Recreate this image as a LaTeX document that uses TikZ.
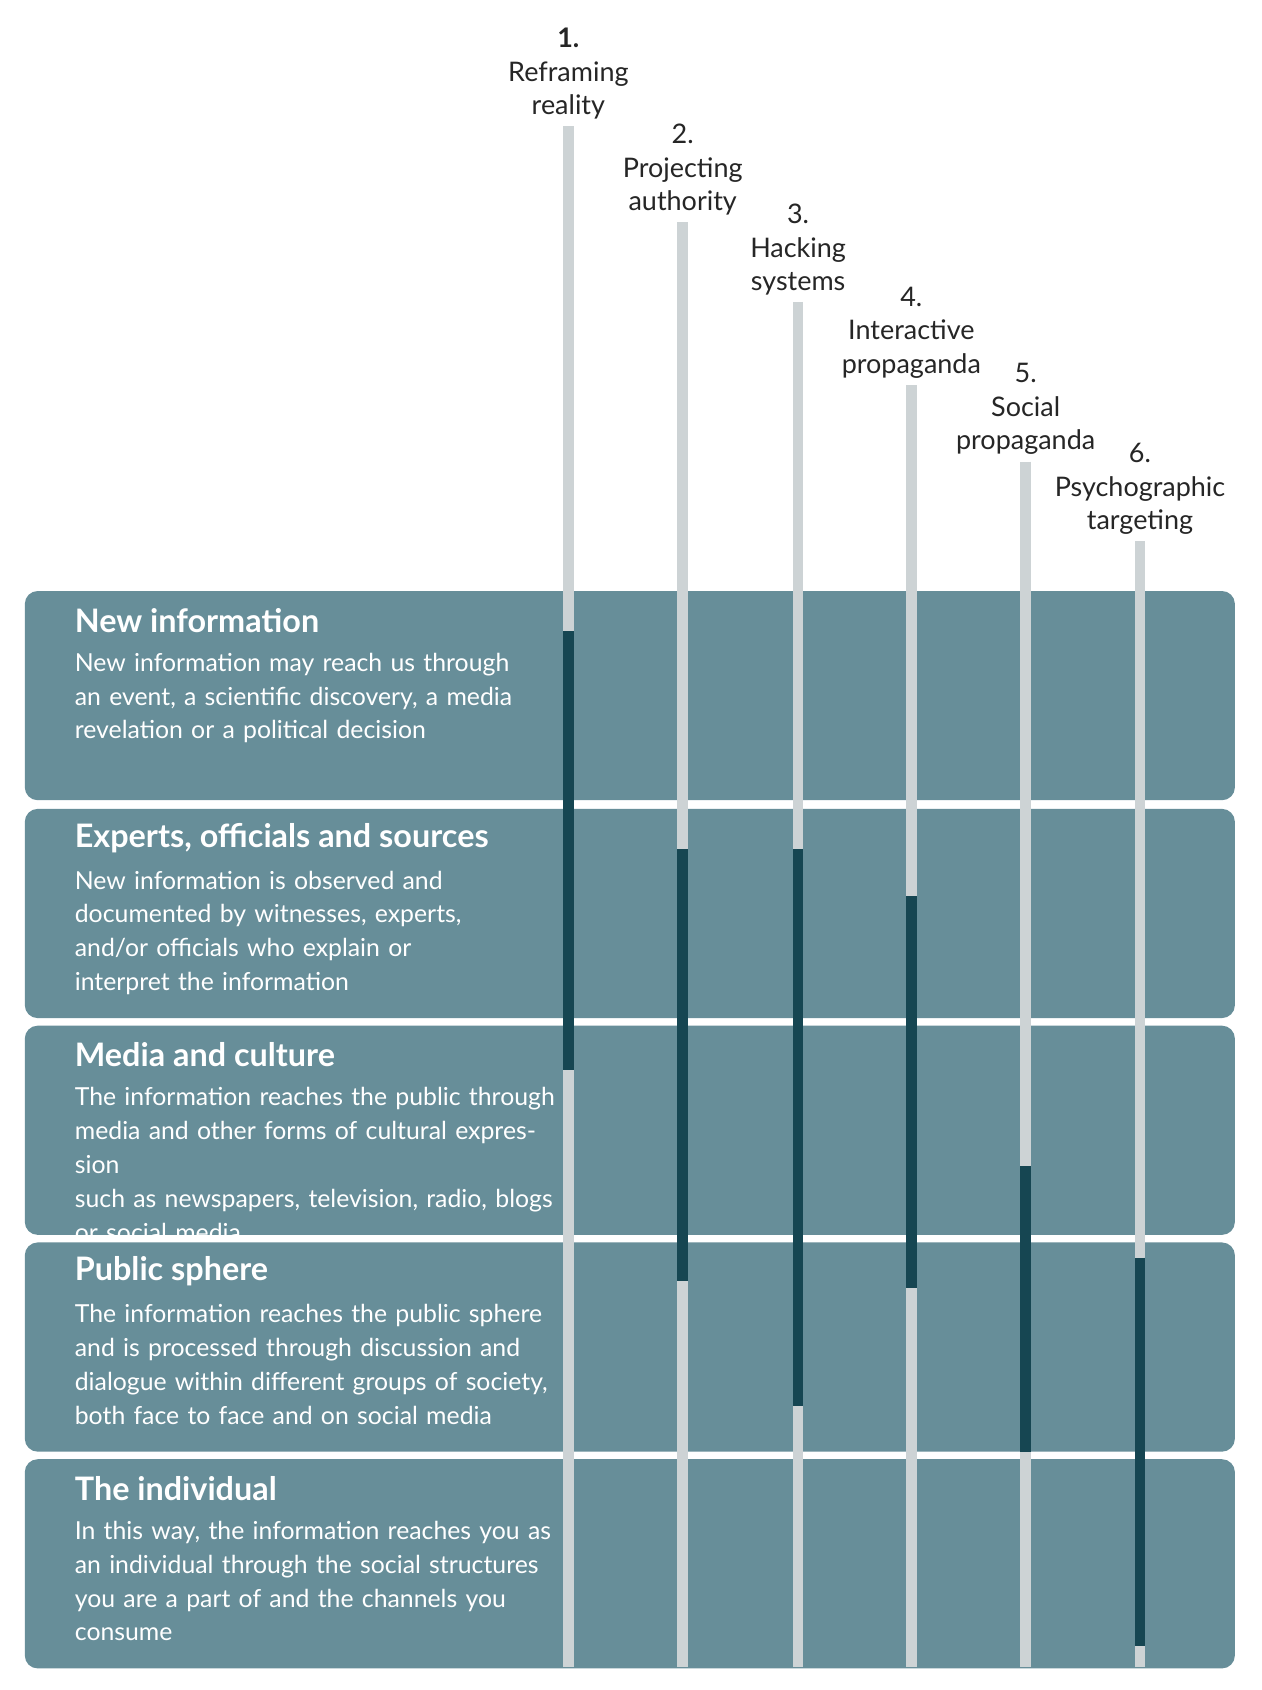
\documentclass[tikz,border=0pt]{standalone}
\usepackage{fontspec}
\setmainfont{Lato}
\definecolor{bandcol}{HTML}{678E99}
\definecolor{darkbar}{HTML}{164652}
\definecolor{lightbar}{HTML}{CDD3D5}
\tikzset{
  band/.style={fill=bandcol,rounded corners=6pt},
  head/.style={anchor=west,text=white,font=\fontsize{15}{18}\selectfont\bfseries,inner sep=0pt},
  body/.style={anchor=north west,text=white,font=\fontsize{11.5}{15.7}\selectfont,align=left,inner sep=0pt,text width=230pt},
  tag/.style={anchor=south,align=center,font=\fontsize{12.5}{15.5}\selectfont,inner sep=0pt,text=black!85},
  lbar/.style={draw=lightbar,line width=5pt},
  dbar/.style={draw=darkbar,line width=5pt}
}
\begin{document}
\begin{tikzpicture}[x=0.5pt,y=-0.5pt]
		\useasboundingbox[fill=white] (0,0) rectangle (1170,1567);
		%bands
		\foreach \Top/\Nom/\Titre/\Texte in {
		548/new/New information/{New information may reach us through\\an event, a scientific discovery, a media\\revelation or a political decision},
		750/exp/{Experts, officials and sources}/{New information is observed and\\documented by witnesses, experts,\\and/or officials who explain or\\interpret the information},
		951/med/Media and culture/{The information reaches the public through\\media and other forms of cultural expression\\such as newspapers, television, radio, blogs\\or social media},
		1152/pub/Public sphere/{The information reaches the public sphere\\and is processed through discussion and\\dialogue within different groups of society,\\both face to face and on social media},
		1353/ind/The individual/{In this way, the information reaches you as\\an individual through the social structures\\you are a part of and the channels you\\consume}}
		{
		\fill[band] (23,\Top) rectangle (1145,\Top+194);
		\node[head] (h-\Nom) at (69,\Top+27) {\Titre};
		\node[body] (b-\Nom) at (69,\Top+57) {\Texte};
		}
		%bars
		\foreach \X/\Top/\Da/\Db/\Num/\Lab in {
		527/117/585/992/{\bfseries 1.}/{Reframing\\reality},
		633/206/787/1188/2./{Projecting\\authority},
		740/280/787/1304/3./{Hacking\\systems},
		845/357/831/1194/4./{Interactive\\propaganda},
		951/428/1081/1346/5./{Social\\propaganda},
		1057/502/1166/1526/6./{Psychographic\\targeting}}
		{
		\draw[lbar] (\X,\Top) -- (\X,1546);
		\draw[dbar] (\X,\Da) -- (\X,\Db);
		\node[tag] (t\X) at (\X,\Top-6) {\Num\\\Lab};
		}
	\end{tikzpicture}
\end{document}
